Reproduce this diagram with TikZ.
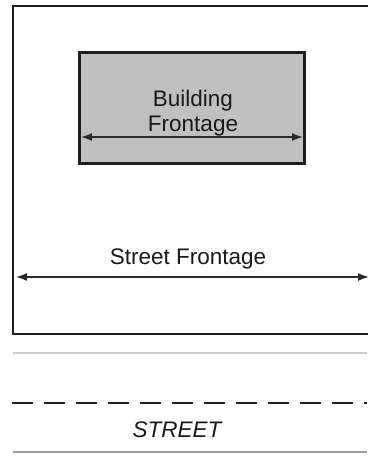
\documentclass[tikz,border=0pt]{standalone}
\usepackage{fontspec}
\setmainfont{Liberation Sans}
\usetikzlibrary{arrows.meta}
\definecolor{framecol}{HTML}{1E1E1E}
\definecolor{bldfill}{HTML}{C0C0C0}
\definecolor{dimcol}{HTML}{2A2A2A}
\definecolor{curbcol}{HTML}{C8C8C8}
\definecolor{edgecol}{HTML}{A0A0A0}
\tikzset{
  lotframe/.style={draw=framecol, line width=2.5pt},
  building/.style={draw=framecol, fill=bldfill, line width=3pt, rectangle,
    minimum width=225pt, minimum height=110pt, inner sep=0pt},
  dimline/.style={draw=dimcol, line width=1.5pt,
    {Latex[length=11pt,width=8pt]}-{Latex[length=11pt,width=8pt]}},
  lbl/.style={font=\fontsize{22.5pt}{25pt}\selectfont, text=black!90, inner sep=0pt},
}
\begin{document}
\begin{tikzpicture}[x=1pt,y=-1pt]
  \useasboundingbox (0,0) rectangle (367,468);
  % lot boundary (continues beyond the right edge)
  \coordinate (lotTR) at (370,6);
  \coordinate (lotTL) at (13,6);
  \coordinate (lotBL) at (13,334);
  \coordinate (lotBR) at (370,334);
  \draw[lotframe] (lotTR) -- (lotTL) -- (lotBL) -- (lotBR);
  % building footprint
  \node[building] (bld) at (191.5,108) {};
  \node[lbl, align=center] (bldtext) at (193,113) {Building\\Frontage};
  \coordinate (bfL) at (81,137);
  \coordinate (bfR) at (303,137);
  \draw[dimline] (bfL) -- (bfR);
  % street frontage dimension
  \node[lbl, anchor=base] (sftext) at (188,264) {Street Frontage};
  \coordinate (sfL) at (16,277);
  \coordinate (sfR) at (369,277);
  \draw[dimline] (sfL) -- (sfR);
  % street
  \coordinate (curbL) at (13,353);
  \coordinate (curbR) at (367,353);
  \draw[curbcol, line width=1.5pt] (curbL) -- (curbR);
  \coordinate (cenL) at (12,403);
  \coordinate (cenR) at (367,403);
  \draw[framecol, line width=2.5pt, dash pattern=on 21pt off 11pt] (cenL) -- (cenR);
  \node[lbl, anchor=base, font=\fontsize{22.5pt}{25pt}\selectfont\itshape] (street) at (177,437) {STREET};
  \coordinate (edgeL) at (13,452);
  \coordinate (edgeR) at (367,452);
  \draw[edgecol, line width=2pt] (edgeL) -- (edgeR);
\end{tikzpicture}
\end{document}
